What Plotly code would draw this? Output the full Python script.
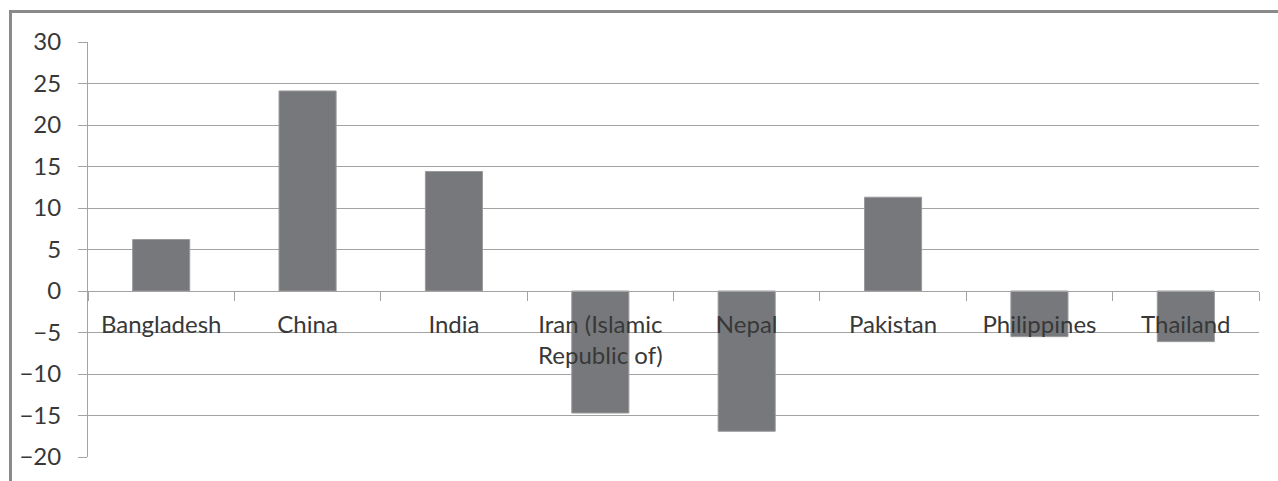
import plotly.graph_objects as go

categories = ["Bangladesh", "China", "India", "Iran (Islamic<br>Republic of)",
              "Nepal", "Pakistan", "Philippines", "Thailand"]
values = [6.2, 24.1, 14.4, -14.7, -16.9, 11.3, -5.5, -6.1]
y_ticks = [-20, -15, -10, -5, 0, 5, 10, 15, 20, 25, 30]

Y_MIN, Y_MAX = -20, 30
GRID = "#a3a3a3"
TEXT = "#383838"
FONT = "Lato"

W, H = 1278, 481
ML, MR, MT, MB = 88, 19, 42, 24

fig = go.Figure(go.Bar(
    x=categories, y=values,
    marker=dict(color="#77787b", line=dict(color="#9a9a9c", width=1)),
))

zero_pos = (0 - Y_MIN) / (Y_MAX - Y_MIN)

fig.update_layout(
    width=W, height=H,
    margin=dict(l=ML, r=MR, t=MT, b=MB),
    paper_bgcolor="white", plot_bgcolor="white",
    bargap=0.61,
    showlegend=False,
    font=dict(family=FONT, size=24, color=TEXT),
    xaxis=dict(
        anchor="free", position=zero_pos,
        showline=True, linecolor=GRID, linewidth=1,
        ticks="outside", tickson="boundaries", ticklen=9, tickcolor=GRID, tickwidth=1,
        showgrid=False, tickfont=dict(family=FONT, size=24, color=TEXT),
        ticklabelstandoff=12,
    ),
    yaxis=dict(
        range=[Y_MIN, Y_MAX], tickvals=y_ticks,
        showgrid=True, gridcolor=GRID, gridwidth=1,
        zeroline=False,
        showline=True, linecolor=GRID, linewidth=1,
        ticks="outside", ticklen=9, tickcolor=GRID, tickwidth=1,
        tickfont=dict(family=FONT, size=24, color=TEXT),
        ticklabelstandoff=12,
    ),
)

# outer frame (top and left edges), in paper coordinates
pw = W - ML - MR
ph = H - MT - MB
fx = (10.5 - ML) / pw
fy = 1 + (MT - 11.5) / ph
fig.add_shape(type="path", xref="paper", yref="paper",
              path=f"M {fx},{-1} L {fx},{fy} L {2},{fy}",
              line=dict(color="#8a8a8a", width=3))

fig.write_html("out.html")
